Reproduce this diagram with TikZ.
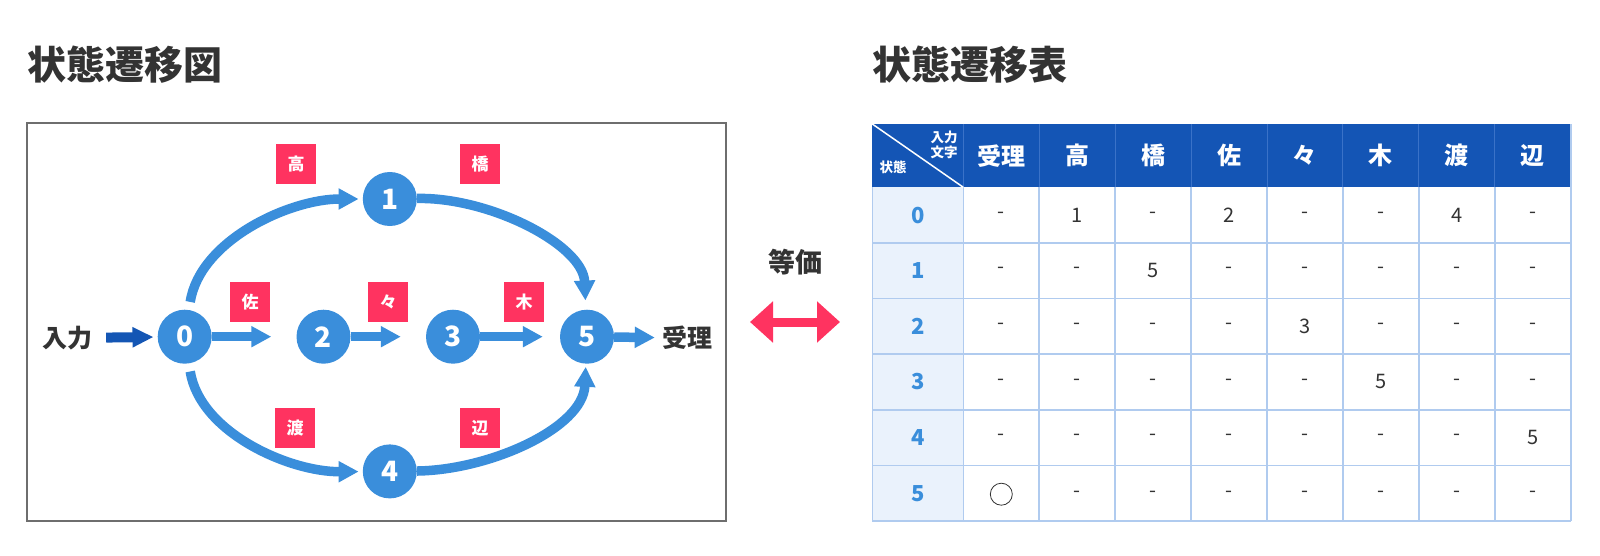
\documentclass[tikz,border=0pt]{standalone}
\usepackage{fontspec}
\setmainfont{Noto Sans CJK JP}
\usetikzlibrary{arrows.meta}
\definecolor{nblue}{HTML}{3A8EDB}
\definecolor{dblue}{HTML}{1456B4}
\definecolor{hblue}{HTML}{1455B5}
\definecolor{hsep}{HTML}{3A72C8}
\definecolor{pinkr}{HTML}{FF3360}
\definecolor{lblue}{HTML}{EAF2FC}
\definecolor{gline}{HTML}{B0CBEF}
\definecolor{txt}{HTML}{333333}
\definecolor{boxgray}{HTML}{6E6E6E}
\tikzset{
  state/.style={circle, fill=nblue, minimum size=54pt, inner sep=0pt, text=white, font=\fontsize{28}{28}\selectfont\bfseries},
  lab/.style={fill=pinkr, minimum size=40pt, inner sep=0pt, text=white, font=\fontsize{17}{17}\selectfont\bfseries},
  arr/.style={draw=nblue, line width=9.5pt, -{Triangle[length=20pt,width=20pt]}},
  inarr/.style={draw=dblue, line width=10pt, -{Triangle[length=21pt,width=19pt]}},
  dbl/.style={draw=pinkr, line width=9pt, {Triangle[length=23pt,width=40pt]}-{Triangle[length=23pt,width=40pt]}},
  plain/.style={inner sep=0pt, text=txt, font=\fontsize{25}{25}\selectfont},
  title/.style={anchor=west, inner sep=0pt, text=txt, font=\fontsize{39}{39}\selectfont\bfseries},
  hdr/.style={inner sep=0pt, text=white, font=\fontsize{24}{24}\selectfont\bfseries},
  corner/.style={inner sep=0pt, text=white, font=\fontsize{13.5}{15}\selectfont\bfseries},
  rowl/.style={inner sep=0pt, text=nblue, font=\fontsize{22}{22}\selectfont\bfseries},
  cell/.style={inner sep=0pt, text=txt, font=\fontsize{20}{20}\selectfont}
}
\begin{document}
\begin{tikzpicture}[x=1pt,y=-1pt]
\path[use as bounding box] (0,0) rectangle (1600,556);

% ---------- left: diagram ----------
\node[title] (t1) at (27,65) {状態遷移図};
\draw[boxgray, line width=2pt] (26.7,123.3) rectangle (725.7,521);

\node[state] (n0) at (184.7,336.7) {0};
\node[state] (n1) at (389.8,199) {1};
\node[state] (n2) at (323.5,336.7) {2};
\node[state] (n3) at (453,336.7) {3};
\node[state] (n4) at (389.8,471.4) {4};
\node[state] (n5) at (587,336.7) {5};

\node[plain, font=\fontsize{25}{25}\selectfont\bfseries] (in) at (67,338) {入力};
\node[plain, font=\fontsize{25}{25}\selectfont\bfseries] (acc) at (687,338) {受理};

\draw[inarr, shorten <=14pt, shorten >=4pt] (in) -- (n0);
\draw[arr, shorten >=25pt] (n0) -- (n2);
\draw[arr, shorten >=25pt] (n2) -- (n3);
\draw[arr, shorten >=17pt] (n3) -- (n5);
\draw[arr, shorten >=7pt] (n5) -- (acc);

\draw[arr, shorten <=8pt, shorten >=4pt] (n0) .. controls (200,240) and (290,199) .. (n1);
\draw[arr, shorten >=9pt] (n1) .. controls (490,197) and (583,245) .. (n5);
\draw[arr, shorten <=8pt, shorten >=4pt] (n0) .. controls (200,433) and (290,472) .. (n4);
\draw[arr, shorten >=3pt] (n4) .. controls (490,470) and (583,428) .. (n5);

\node[lab] (l1) at (296,164) {高};
\node[lab] (l2) at (480,164) {橋};
\node[lab] (l3) at (250,302) {佐};
\node[lab] (l4) at (388,302) {々};
\node[lab] (l5) at (524,302) {木};
\node[lab] (l6) at (295,428) {渡};
\node[lab] (l7) at (480,428) {辺};

% ---------- middle ----------
\node[plain, font=\fontsize{27}{27}\selectfont\bfseries] (eq) at (795,262) {等価};
\coordinate (dl) at (750,322);
\coordinate (dr) at (840,322);
\draw[dbl] (dl) -- (dr);

% ---------- right: table ----------
\node[title] (t2) at (872,65) {状態遷移表};

\fill[hblue] (872.3,124) rectangle (1570.7,187.3);
\fill[lblue] (872.3,187.3) rectangle (963.3,521);
\fill[white] (963.3,187.3) rectangle (1570.7,521);

\foreach \i in {1,...,8}
  \draw[hsep, line width=1pt] ({963.3+(\i-1)*75.925},124) -- ({963.3+(\i-1)*75.925},187.3);
\foreach \r in {1,...,6}
  \draw[gline, line width=1.6pt] (872.3,{187.3+\r*55.62}) -- (1570.7,{187.3+\r*55.62});
\draw[gline, line width=1.6pt] (872.3,187.3) -- (872.3,521);
\foreach \i in {1,...,8}
  \draw[gline, line width=1.6pt] ({963.3+(\i-1)*75.925},187.3) -- ({963.3+(\i-1)*75.925},521);
\draw[gline, line width=1.6pt] (1570.7,124) -- (1570.7,521);

\draw[white, line width=1.5pt] (872.3,124) -- (963.3,187.3);
\node[corner, anchor=east] (ca) at (957.7,137.7) {入力};
\node[corner, anchor=east] (cb) at (957.7,152.3) {文字};
\node[corner] (cc) at (893,167.3) {状態};

\foreach \c [count=\i] in {受理,高,橋,佐,々,木,渡,辺}
  \node[hdr] (h\i) at ({963.3+(\i-0.5)*75.925},155.7) {\c};

\foreach \r in {0,...,5}
  \node[rowl] (r\r) at (917.8,{187.3+(\r+0.5)*55.62}) {\r};

\foreach \r/\vals in {0/{-,1,-,2,-,-,4,-},1/{-,-,5,-,-,-,-,-},2/{-,-,-,-,3,-,-,-},3/{-,-,-,-,-,5,-,-},4/{-,-,-,-,-,-,-,5}}
  \foreach \v [count=\i] in \vals
    \node[cell] (c\r-\i) at ({963.3+(\i-0.5)*75.925},{187.3+(\r+0.5)*55.62}) {\v};
\node[circle, draw=txt, line width=0.8pt, minimum size=22pt, inner sep=0pt] (c5-1) at (1001.3,494.2) {};
\foreach \i in {2,...,8}
  \node[cell] (c5-\i) at ({963.3+(\i-0.5)*75.925},494.2) {-};
\end{tikzpicture}
\end{document}
